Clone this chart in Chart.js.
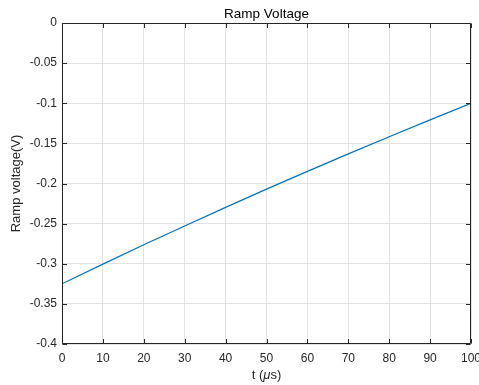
<!DOCTYPE html>
<html>
<head>
<meta charset="utf-8">
<style>
  html, body { margin: 0; padding: 0; background: #fff; }
  #wrap { width: 479px; height: 385px; position: relative; }
</style>
<script src="https://cdn.jsdelivr.net/npm/chart.js@4.4.0/dist/chart.umd.min.js"></script>
</head>
<body>
<div id="wrap"><canvas id="c" width="479" height="385"></canvas></div>
<script>
// ---- data ----
const tValues = [0, 10, 20, 30, 40, 50, 60, 70, 80, 90, 100];            // t (µs)
const rampVoltage = [-0.325, -0.3005, -0.2764, -0.2529, -0.2298, -0.207,
                     -0.1849, -0.1631, -0.1417, -0.1207, -0.1];          // V
const xTickLabels = ['0', '10', '20', '30', '40', '50', '60', '70', '80', '90', '100'];
const yTickLabels = ['0', '-0.05', '-0.1', '-0.15', '-0.2', '-0.25', '-0.3', '-0.35', '-0.4'];
const yTickValues = [0, -0.05, -0.1, -0.15, -0.2, -0.25, -0.3, -0.35, -0.4];
const chartTitle = 'Ramp Voltage';
const yTitle = 'Ramp voltage(V)';

const FONT = "'Liberation Sans', Arial, Helvetica, sans-serif";
const AXIS_COLOR = '#262626';
const GRID_COLOR = '#e3e3e3';

function yLabelFor(v) {
  for (let i = 0; i < yTickValues.length; i++) {
    if (Math.abs(yTickValues[i] - v) < 1e-9) return yTickLabels[i];
  }
  return '';
}
function xLabelFor(v) {
  const i = tValues.indexOf(Math.round(v));
  return i >= 0 ? xTickLabels[i] : '';
}

const matlabAxes = {
  id: 'matlabAxes',
  afterDraw(chart) {
    const ctx = chart.ctx;
    const a = chart.chartArea;
    const xs = chart.scales.x, ys = chart.scales.y;
    const L = Math.round(a.left) + 0.5, R = Math.round(a.right) - 0.5;
    const T = Math.round(a.top) + 0.5, B = Math.round(a.bottom) - 0.5;
    ctx.save();
    ctx.strokeStyle = AXIS_COLOR;
    ctx.lineWidth = 1;
    ctx.beginPath();
    ctx.rect(L, T, R - L, B - T);
    ctx.stroke();
    const tl = 4.5;
    ctx.beginPath();
    xs.ticks.forEach(t => {
      const px = Math.round(xs.getPixelForValue(t.value)) + 0.5;
      ctx.moveTo(px, B); ctx.lineTo(px, B - tl);
      ctx.moveTo(px, T); ctx.lineTo(px, T + tl);
    });
    ys.ticks.forEach(t => {
      const py = Math.round(ys.getPixelForValue(t.value)) + 0.5;
      ctx.moveTo(L, py); ctx.lineTo(L + tl, py);
      ctx.moveTo(R, py); ctx.lineTo(R - tl, py);
    });
    ctx.stroke();

    // title
    const cx = (a.left + a.right) / 2;
    ctx.fillStyle = '#000';
    ctx.font = '13.5px ' + FONT;
    ctx.textAlign = 'center';
    ctx.textBaseline = 'alphabetic';
    ctx.fillText(chartTitle, cx, 17.5);

    // x axis title: t (µs) with italic mu
    ctx.fillStyle = AXIS_COLOR;
    const fN = '13px ' + FONT, fI = 'italic 13px ' + FONT;
    const parts = [['t (', fN], ['\u03BC', fI], ['s)', fN]];
    let w = 0;
    parts.forEach(p => { ctx.font = p[1]; w += ctx.measureText(p[0]).width; });
    let x = cx - w / 2;
    ctx.textAlign = 'left';
    parts.forEach(p => { ctx.font = p[1]; ctx.fillText(p[0], x, 378.5); x += ctx.measureText(p[0]).width; });

    // y axis title
    ctx.save();
    ctx.translate(20, (a.top + a.bottom) / 2);
    ctx.rotate(-Math.PI / 2);
    ctx.font = '13px ' + FONT;
    ctx.textAlign = 'center';
    ctx.textBaseline = 'alphabetic';
    ctx.fillText(yTitle, 0, 0);
    ctx.restore();
    ctx.restore();
  }
};

new Chart(document.getElementById('c'), {
  type: 'line',
  data: {
    datasets: [{
      data: tValues.map((t, i) => ({ x: t, y: rampVoltage[i] })),
      borderColor: '#0072BD',
      borderWidth: 1.2,
      pointRadius: 0,
      tension: 0,
      fill: false
    }]
  },
  options: {
    responsive: false,
    animation: false,
    devicePixelRatio: 1,
    layout: { padding: { top: 23, right: 8, bottom: 0, left: 0 } },
    plugins: { legend: { display: false }, title: { display: false }, tooltip: { enabled: false } },
    scales: {
      x: {
        type: 'linear', min: 0, max: 100,
        afterFit(s) { s.height = 41; s.paddingLeft = 0; s.paddingRight = 0; },
        ticks: {
          stepSize: 10, padding: 7, maxRotation: 0, autoSkip: false,
          color: AXIS_COLOR, font: { family: FONT, size: 12 },
          callback: v => xLabelFor(v)
        },
        grid: { color: GRID_COLOR, drawTicks: false, lineWidth: 1 },
        border: { display: false }
      },
      y: {
        type: 'linear', min: -0.4, max: 0,
        afterFit(s) { s.width = 62; s.paddingTop = 0; s.paddingBottom = 0; },
        ticks: {
          stepSize: 0.05, padding: 5, autoSkip: false,
          color: AXIS_COLOR, font: { family: FONT, size: 12 },
          callback: v => yLabelFor(v)
        },
        grid: { color: GRID_COLOR, drawTicks: false, lineWidth: 1 },
        border: { display: false }
      }
    }
  },
  plugins: [matlabAxes]
});
</script>
</body>
</html>
